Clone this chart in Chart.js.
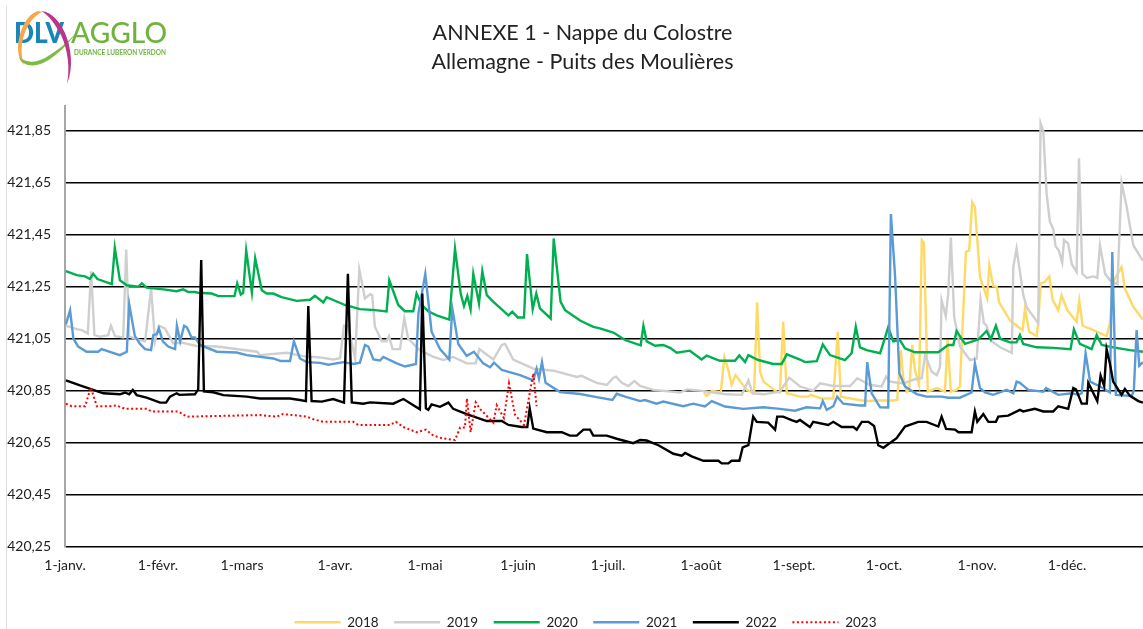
<!DOCTYPE html>
<html>
<head>
<meta charset="utf-8">
<title>ANNEXE 1 - Nappe du Colostre</title>
<script src="https://cdn.jsdelivr.net/npm/chart.js@4"></script>
<style>
    html, body { margin: 0; padding: 0; background: #fff; }
    #page { position: relative; width: 1143px; height: 629px; overflow: hidden; }
    #myChart { position: absolute; left: 0; top: 0; }
    #logo { position: absolute; left: 0; top: 0; }
    #edge { position: absolute; left: 6px; top: 6px; width: 1px; height: 623px; background: #dedede; }
</style>
</head>
<body>
<div id="page">
    <canvas id="myChart" width="1165" height="639"></canvas>
    <div id="edge"></div>
    <svg id="logo" width="175" height="90" viewBox="0 0 175 90">
        <text x="14" y="43" font-family="Lato" font-weight="900" font-size="29" fill="#1a86b8" textLength="50" lengthAdjust="spacingAndGlyphs">DLV</text>
        <text x="71" y="43" font-family="Lato" font-weight="500" font-size="29" fill="#6fb33f" textLength="96" lengthAdjust="spacingAndGlyphs">AGGLO</text>
        <text x="74" y="55" font-family="Lato" font-weight="700" font-size="6.5" fill="#6fb33f" textLength="92" lengthAdjust="spacingAndGlyphs">DURANCE LUBERON VERDON</text>
        <path d="M38 11 C27 14 19 30 18 47 C18 55 20 61 24 65 C21 56 21 46 23 39 C26 27 32 17 42 12 Z" fill="#f5a84b"/>
        <path d="M19 57 C22 66 34 68 45 62 C58 55 68 44 78 31 C67 43 57 51 45 58 C35 63 26 63 19 57 Z" fill="#7dbb45"/>
        <path d="M41 11 C52 12 60 22 65 33 C71 47 74 67 67 84 C70 68 68 50 61 35 C55 24 49 15 41 11 Z" fill="#b8378c"/>
    </svg>
</div>
<script>
    const monthDays = [0, 31, 59, 90, 120, 151, 181, 212, 243, 273, 304, 334];
    const monthLabels = ['1-janv.', '1-févr.', '1-mars', '1-avr.', '1-mai', '1-juin', '1-juil.', '1-août', '1-sept.', '1-oct.', '1-nov.', '1-déc.'];
    const levelTicks = [420.25, 420.45, 420.65, 420.85, 421.05, 421.25, 421.45, 421.65, 421.85];

    const days2018 = [213, 213.9, 215.6, 218.6, 219.8, 221.1, 222.2, 223.5, 227.2, 229.7, 230.7, 231.7, 232.8, 237.2, 238.3, 239.4, 240.6, 245, 247.8, 248.6, 252.2, 256.1, 257.6, 258.6, 262.8, 267.2, 271.7, 276.1, 277.4, 278.6, 279.4, 280.6, 281.4, 282.4, 283.3, 284.7, 285.6, 286.3, 287.6, 290.6, 293.3, 294.2, 295.3, 297.2, 298.3, 300.3, 301.4, 302.4, 303.3, 305, 307.4, 308.1, 309.4, 310.6, 311.4, 315, 319.2, 320, 321.4, 323.9, 324.4, 325.2, 326.7, 328.1, 329.2, 331.1, 332.2, 334.1, 337.2, 338.1, 339.2, 342.8, 347.2, 348.3, 349.4, 352.2, 353.3, 356.1, 359.3];
    const values2018 = [420.843, 420.83, 420.85, 420.844, 420.98, 420.93, 420.872, 420.91, 420.853, 420.84, 421.19, 420.923, 420.885, 420.846, 420.843, 421.115, 420.84, 420.827, 420.827, 420.834, 420.82, 420.82, 421.077, 420.827, 420.818, 420.81, 420.812, 420.812, 420.814, 421.006, 420.9, 420.846, 420.853, 421.026, 420.93, 420.872, 421.43, 421.42, 420.846, 420.86, 420.846, 421.045, 420.846, 420.853, 420.866, 421.384, 421.39, 421.576, 421.557, 421.288, 421.205, 421.333, 421.253, 421.25, 421.19, 421.12, 421.083, 421.166, 421.077, 421.06, 421.11, 421.262, 421.27, 421.29, 421.2, 421.16, 421.218, 421.16, 421.115, 421.196, 421.1, 421.083, 421.06, 421.11, 421.27, 421.326, 421.243, 421.173, 421.124];

    const days2019 = [0.3, 3.9, 5.6, 7.6, 8.7, 9.8, 11.7, 14.4, 15.3, 16.7, 19.4, 20.4, 21.4, 25, 26.7, 28.7, 30, 31.3, 33.3, 36.1, 38.9, 43.9, 50.6, 64, 65, 73.9, 79.4, 85, 89.4, 91.7, 93, 94.3, 96.7, 98.1, 100, 101.7, 102.4, 103.3, 105.6, 107.2, 108, 109.2, 111.7, 113.1, 114.4, 118.3, 122.8, 126.1, 129.4, 133.9, 136.9, 138.1, 142.8, 145.6, 146.7, 149.4, 156.1, 162.8, 170.6, 172.2, 177.2, 180.6, 182.8, 183.7, 185.6, 187.8, 189.8, 191.7, 196.1, 205, 207.4, 211.7, 216.1, 220.6, 225.6, 227.8, 229.2, 232.8, 238.3, 241.4, 245, 249.4, 251.7, 256.1, 261.7, 264.1, 268.3, 272.2, 273.7, 275, 279.4, 283.3, 285.6, 286.7, 288.9, 290.6, 291.7, 292.2, 293.6, 294.4, 295.3, 296.4, 298.3, 301.7, 303.9, 305.2, 306.3, 307.2, 308.9, 311.7, 315.6, 316.1, 317.2, 319.4, 320.6, 324.4, 325.2, 326.1, 327.2, 328.3, 329.4, 330.2, 331.3, 332.4, 333, 334.4, 335.6, 337.2, 338, 339.1, 340.6, 342.8, 344.1, 345, 346.7, 348.3, 350.8, 352.2, 353.9, 356.1, 359.3];
    const values2019 = [421.1, 421.087, 421.083, 421.07, 421.31, 421.064, 421.058, 421.064, 421.1, 421.06, 421.055, 421.393, 421.058, 421.045, 421.04, 421.244, 421.04, 421.1, 421.09, 421.032, 421.035, 421.022, 421.02, 421.0, 420.987, 420.996, 420.983, 420.978, 420.97, 420.975, 421.1, 421.1, 420.975, 421.317, 421.205, 421.222, 421.218, 421.096, 421.04, 421.04, 421.06, 421.01, 421.01, 421.13, 421.05, 421.006, 420.98, 420.968, 420.98, 420.955, 420.955, 421.01, 420.97, 421.026, 421.03, 420.97, 420.935, 420.927, 420.903, 420.907, 420.88, 420.872, 420.9, 420.904, 420.88, 420.868, 420.887, 420.868, 420.853, 420.843, 420.855, 420.85, 420.843, 420.836, 420.834, 420.89, 420.84, 420.836, 420.846, 420.9, 420.866, 420.85, 420.878, 420.868, 420.868, 420.898, 420.872, 420.866, 420.904, 420.885, 420.878, 420.894, 420.898, 420.987, 420.923, 420.91, 420.942, 421.198, 421.137, 421.224, 421.44, 421.134, 421.02, 420.968, 420.974, 421.2, 421.11, 421.1, 421.04, 421.017, 420.996, 421.326, 421.397, 421.22, 421.17, 421.11, 421.88, 421.85, 421.61, 421.5, 421.474, 421.406, 421.39, 421.343, 421.43, 421.416, 421.337, 421.307, 421.745, 421.3, 421.284, 421.29, 421.284, 421.41, 421.3, 421.275, 421.26, 421.65, 421.557, 421.41, 421.35];

    const days2020 = [0.3, 3.9, 6.7, 8.3, 9.4, 10.8, 15.6, 16.6, 18.3, 20.6, 24.4, 25.6, 27.2, 32.8, 37.2, 39.4, 41.1, 43.3, 44.4, 48.9, 51.1, 56.5, 57.4, 58.6, 59.4, 60.4, 62.3, 63.4, 65.6, 67.2, 69.4, 72.2, 77.2, 81.7, 83.3, 85, 86.1, 87.2, 93.3, 98.3, 103.3, 107.2, 108.1, 111.1, 113.3, 116.1, 117.2, 118.9, 121.1, 123.9, 128.1, 130, 131.9, 133, 134.1, 135.2, 136.1, 138, 139.1, 140.6, 142.8, 147.8, 149.1, 150.9, 153, 154, 155.9, 157.1, 158.3, 161.9, 162.9, 165.2, 166.7, 171.7, 176.1, 178.3, 182.8, 186.7, 191.9, 192.8, 193.9, 196.7, 199.4, 201.7, 203.9, 208.3, 212.2, 213.9, 218.3, 223.3, 224.8, 226.7, 227.8, 231.1, 236.1, 238.9, 240.6, 245, 246.7, 250.6, 252.6, 255, 258.3, 260, 262.2, 263.6, 265, 267.2, 271.7, 274.4, 276.1, 278.3, 280, 283.3, 291.1, 294.4, 296.1, 297.2, 300, 304.4, 307.2, 308.6, 310.3, 311.7, 315, 317.2, 318.3, 319.4, 323.9, 329.4, 335.2, 336.3, 338.3, 342.2, 343.9, 345.6, 349.4, 355, 359.3];
    const values2020 = [421.31, 421.295, 421.29, 421.28, 421.3, 421.28, 421.26, 421.4, 421.275, 421.256, 421.25, 421.263, 421.247, 421.24, 421.233, 421.24, 421.23, 421.23, 421.227, 421.224, 421.214, 421.214, 421.263, 421.22, 421.227, 421.39, 421.228, 421.36, 421.237, 421.224, 421.224, 421.21, 421.196, 421.2, 421.215, 421.2, 421.19, 421.21, 421.18, 421.164, 421.16, 421.155, 421.275, 421.18, 421.156, 421.156, 421.224, 421.18, 421.156, 421.14, 421.124, 421.397, 421.224, 421.176, 421.215, 421.163, 421.3, 421.186, 421.31, 421.218, 421.192, 421.14, 421.154, 421.132, 421.132, 421.376, 421.164, 421.224, 421.167, 421.128, 421.436, 421.192, 421.16, 421.12, 421.096, 421.09, 421.074, 421.045, 421.024, 421.1, 421.04, 421.023, 421.026, 421.015, 420.996, 421.004, 420.97, 420.985, 420.965, 420.965, 420.986, 420.96, 420.987, 420.968, 420.953, 420.953, 420.99, 420.97, 420.96, 420.964, 421.028, 420.987, 420.974, 420.968, 420.994, 421.096, 421.017, 421.006, 420.994, 421.094, 421.04, 421.045, 421.013, 420.998, 420.998, 421.026, 421.026, 421.08, 421.03, 421.047, 421.08, 421.047, 421.1, 421.05, 421.036, 421.036, 421.064, 421.03, 421.017, 421.015, 421.01, 421.086, 421.03, 421.01, 421.064, 421.026, 421.017, 421.006, 421.0];

    const days2021 = [0.3, 1.7, 2.8, 4.4, 7.2, 11.1, 12.2, 18.3, 20.6, 21.4, 23.3, 25, 26.7, 28.7, 29.4, 30.6, 31.3, 32.6, 34.4, 36.7, 37.3, 38.4, 39.7, 40.6, 42.2, 43.3, 45, 50.6, 57.2, 60.6, 69.4, 71.9, 75, 76.3, 78.3, 80.6, 85, 87.8, 92.8, 96.1, 98.3, 100, 101.1, 102.8, 105, 106.1, 110.6, 113.3, 117, 117.8, 120.1, 122.2, 125, 128.1, 129.1, 131.1, 133.9, 136.3, 139.4, 141.7, 143, 145.6, 151.7, 156.1, 157.2, 158, 159, 160.2, 165, 171.7, 177.2, 182.5, 183.9, 186.7, 191.7, 193.3, 197.2, 199.4, 206.1, 209.4, 213.3, 215.6, 220, 226.1, 232.8, 238.3, 243.3, 247.2, 251.7, 252.6, 253.9, 256.1, 257.4, 259.4, 265, 266.7, 267.4, 268.9, 271.7, 274.4, 275.3, 276.7, 278.1, 280, 283.9, 287.2, 292.2, 294.4, 298.3, 302.2, 303.3, 305, 306.7, 309.4, 313.9, 316.1, 317.2, 318.3, 321.1, 326.1, 327, 331.1, 335.6, 337.8, 338.9, 340.2, 341.7, 345, 348.3, 349.1, 350.3, 355.6, 356.3, 357.2, 358.1, 359.3];
    const values2021 = [421.105, 421.16, 421.05, 421.02, 421.0, 421.0, 421.01, 420.987, 421.0, 421.183, 421.06, 421.03, 421.01, 421.006, 421.064, 421.068, 421.09, 421.04, 421.02, 421.01, 421.1, 421.04, 421.1, 421.094, 421.055, 421.055, 421.026, 421.0, 420.997, 420.987, 420.974, 420.964, 420.964, 421.04, 420.974, 420.96, 420.957, 420.95, 420.96, 420.953, 420.958, 421.026, 421.02, 420.97, 420.966, 420.98, 420.955, 420.943, 420.953, 421.147, 421.3, 421.077, 421.01, 420.97, 421.167, 421.03, 420.984, 421.0, 420.955, 420.94, 420.958, 420.93, 420.91, 420.89, 420.935, 420.897, 420.96, 420.88, 420.845, 420.837, 420.825, 420.814, 420.838, 420.827, 420.81, 420.814, 420.8, 420.808, 420.79, 420.8, 420.789, 420.81, 420.789, 420.78, 420.786, 420.78, 420.773, 420.786, 420.782, 420.81, 420.776, 420.79, 420.827, 420.8, 420.793, 420.793, 420.96, 420.84, 420.786, 420.785, 421.53, 421.29, 420.917, 420.866, 420.837, 420.827, 420.827, 420.823, 420.823, 420.843, 420.955, 420.86, 420.843, 420.834, 420.853, 420.84, 420.885, 420.88, 420.853, 420.846, 420.86, 420.834, 420.84, 420.834, 420.84, 420.994, 420.885, 420.866, 420.843, 421.384, 420.834, 420.83, 420.853, 421.083, 420.946, 420.96];

    const days2022 = [0.3, 5, 9.4, 12.8, 18.3, 20, 21.4, 22.6, 23.9, 27.2, 31.7, 33.7, 35, 37.2, 38.1, 43.3, 44.4, 45.4, 46.3, 49.4, 52.8, 60.6, 65, 75, 78.3, 80.3, 81.1, 82.2, 85.6, 89.4, 93, 94.3, 95.6, 99.4, 101.7, 109.4, 112.8, 118.3, 119.1, 120.3, 121.1, 122.2, 125, 127.8, 129.4, 133.9, 140.6, 145.6, 147.8, 152.2, 154.1, 154.9, 156.1, 160.6, 165.6, 168.3, 170.6, 172.8, 175, 176.1, 180.6, 183.9, 189.4, 191.7, 193.9, 197.8, 202.8, 205.6, 206.7, 208.9, 212.8, 217.8, 218.9, 221.1, 222.2, 224.8, 225.9, 227.8, 229.4, 230.6, 234.4, 236.7, 237.4, 239.4, 242.2, 243.9, 245, 248.3, 249.4, 254.4, 256.1, 258.9, 262.8, 263.9, 265.6, 267.8, 269.7, 271.1, 272.8, 277.2, 280, 284.4, 287.2, 291.1, 292.2, 293.7, 296.7, 297.8, 302.2, 303.3, 304.1, 306.1, 307.8, 310.3, 311.1, 314.4, 318.3, 319.4, 323.3, 326.1, 329.4, 331.1, 334.4, 336.1, 337, 338.9, 340.6, 341.1, 344.1, 345.2, 346.4, 347.2, 348.3, 349.4, 352.2, 353.3, 355, 357.8, 359.3];
    const values2022 = [420.89, 420.87, 420.853, 420.84, 420.836, 420.843, 420.836, 420.853, 420.833, 420.823, 420.804, 420.804, 420.827, 420.84, 420.834, 420.836, 420.855, 421.353, 420.847, 420.844, 420.833, 420.827, 420.82, 420.82, 420.814, 420.81, 421.176, 420.81, 420.808, 420.818, 420.804, 421.3, 420.805, 420.8, 420.805, 420.8, 420.818, 420.778, 421.224, 420.782, 420.776, 420.797, 420.788, 420.804, 420.78, 420.76, 420.733, 420.733, 420.718, 420.71, 420.71, 420.782, 420.704, 420.69, 420.69, 420.677, 420.677, 420.7, 420.7, 420.677, 420.677, 420.665, 420.648, 420.66, 420.658, 420.64, 420.607, 420.6, 420.61, 420.597, 420.58, 420.58, 420.57, 420.57, 420.58, 420.58, 420.632, 420.64, 420.75, 420.73, 420.727, 420.7, 420.75, 420.75, 420.737, 420.73, 420.737, 420.71, 420.73, 420.718, 420.73, 420.71, 420.71, 420.7, 420.73, 420.73, 420.714, 420.64, 420.63, 420.667, 420.712, 420.73, 420.73, 420.712, 420.75, 420.703, 420.7, 420.69, 420.69, 420.77, 420.73, 420.76, 420.73, 420.73, 420.75, 420.754, 420.776, 420.77, 420.78, 420.77, 420.77, 420.79, 420.78, 420.86, 420.855, 420.8, 420.8, 420.88, 420.81, 420.908, 420.868, 421.01, 420.955, 420.885, 420.834, 420.857, 420.83, 420.81, 420.804];

    const days2023 = [0.3, 2.2, 6.7, 8.6, 10.6, 15, 17.2, 20, 27.2, 28.9, 37.8, 40.6, 65, 70.6, 72.6, 80.6, 82.8, 86.1, 96.1, 97.8, 108.3, 110.3, 112.8, 117.2, 120.3, 122.8, 125.6, 130, 131.7, 133.3, 134, 135.2, 136.9, 138.3, 142.8, 143.9, 146.3, 148, 150, 153, 156.1, 157.2];
    const values2023 = [420.8, 420.79, 420.79, 420.863, 420.79, 420.79, 420.793, 420.78, 420.78, 420.77, 420.77, 420.75, 420.756, 420.75, 420.76, 420.75, 420.74, 420.73, 420.73, 420.718, 420.718, 420.73, 420.71, 420.69, 420.7, 420.677, 420.667, 420.66, 420.708, 420.708, 420.82, 420.69, 420.805, 420.78, 420.727, 420.794, 420.745, 420.878, 420.757, 420.718, 420.917, 420.79];

    const fontName = 'Lato';
    const ctx = document.getElementById('myChart');

    // the first dataset is painted last in Chart.js, so the newest year goes first
    function buildSeries(label, days, values, color, extra) {
        return Object.assign({
            label: label,
            data: days.map((d, i) => ({ x: d, y: values[i] })),
            borderColor: color,
            backgroundColor: color,
            borderWidth: 2.4,
            pointRadius: 0,
            tension: 0,
            fill: false
        }, extra || {});
    }

    // with usePointStyle the legend forgets the line style, so copy it back
    function legendItems(current_chart) {
        return Chart.defaults.plugins.legend.labels.generateLabels(current_chart).map((item) => {
            let dataset = current_chart.data.datasets[item.datasetIndex];
            item.strokeStyle = dataset.borderColor;
            item.lineWidth = dataset.borderWidth;
            item.lineDash = dataset.borderDash || [];
            return item;
        });
    }

    // legend sits a bit right of the canvas centre in the original
    const nudgeLegend = {
        id: 'nudgeLegend',
        afterLayout(current_chart) {
            current_chart.legend.left += 6;
        }
    };

    let chart = new Chart(ctx, {
        type: 'line',
        plugins: [nudgeLegend],
        data: {
            datasets: [
                buildSeries('2023', days2023, values2023, '#ff0000', { borderWidth: 2, borderDash: [2, 2.5] }),
                buildSeries('2022', days2022, values2022, '#000000'),
                buildSeries('2021', days2021, values2021, '#5b9bd5'),
                buildSeries('2020', days2020, values2020, '#00b050'),
                buildSeries('2019', days2019, values2019, '#cfcfcf'),
                buildSeries('2018', days2018, values2018, '#ffd966')
            ]
        },
        options: {
            responsive: false,
            animation: false,
            layout: { padding: 0 },
            scales: {
                x: {
                    type: 'linear',
                    min: 0,
                    max: 366.67,
                    grid: { display: false },
                    border: { display: false },
                    afterBuildTicks: (scale) => { scale.ticks = monthDays.map((d) => ({ value: d })); },
                    afterFit: (scale) => { scale.height = 53.5; },
                    ticks: {
                        autoSkip: false,
                        maxRotation: 0,
                        padding: 3,
                        color: '#222',
                        font: { family: fontName, size: 14 },
                        callback: (value) => monthLabels[monthDays.indexOf(value)]
                    }
                },
                y: {
                    type: 'linear',
                    min: 420.25,
                    max: 421.946,
                    afterBuildTicks: (scale) => { scale.ticks = levelTicks.map((v) => ({ value: v })); },
                    afterFit: (scale) => { scale.width = 65; },
                    border: { display: true, color: '#a6a6a6', width: 2 },
                    grid: { color: '#000000', lineWidth: 1.5, drawTicks: false },
                    ticks: {
                        padding: 14,
                        color: '#222',
                        font: { family: fontName, size: 14 },
                        callback: (value) => value.toFixed(2).replace('.', ',')
                    }
                }
            },
            plugins: {
                tooltip: { enabled: false },
                title: {
                    display: true,
                    text: ['ANNEXE 1 - Nappe du Colostre', 'Allemagne - Puits des Moulières'],
                    color: '#222',
                    font: { family: fontName, size: 21.5, weight: 'normal', lineHeight: 1.35 },
                    padding: { top: 19, bottom: 29 }
                },
                legend: {
                    position: 'bottom',
                    reverse: true,
                    labels: {
                        usePointStyle: true,
                        pointStyle: 'line',
                        pointStyleWidth: 46,
                        padding: 15.5,
                        color: '#222',
                        font: { family: fontName, size: 13.5 },
                        generateLabels: legendItems
                    }
                }
            }
        }
    });
</script>
</body>
</html>
